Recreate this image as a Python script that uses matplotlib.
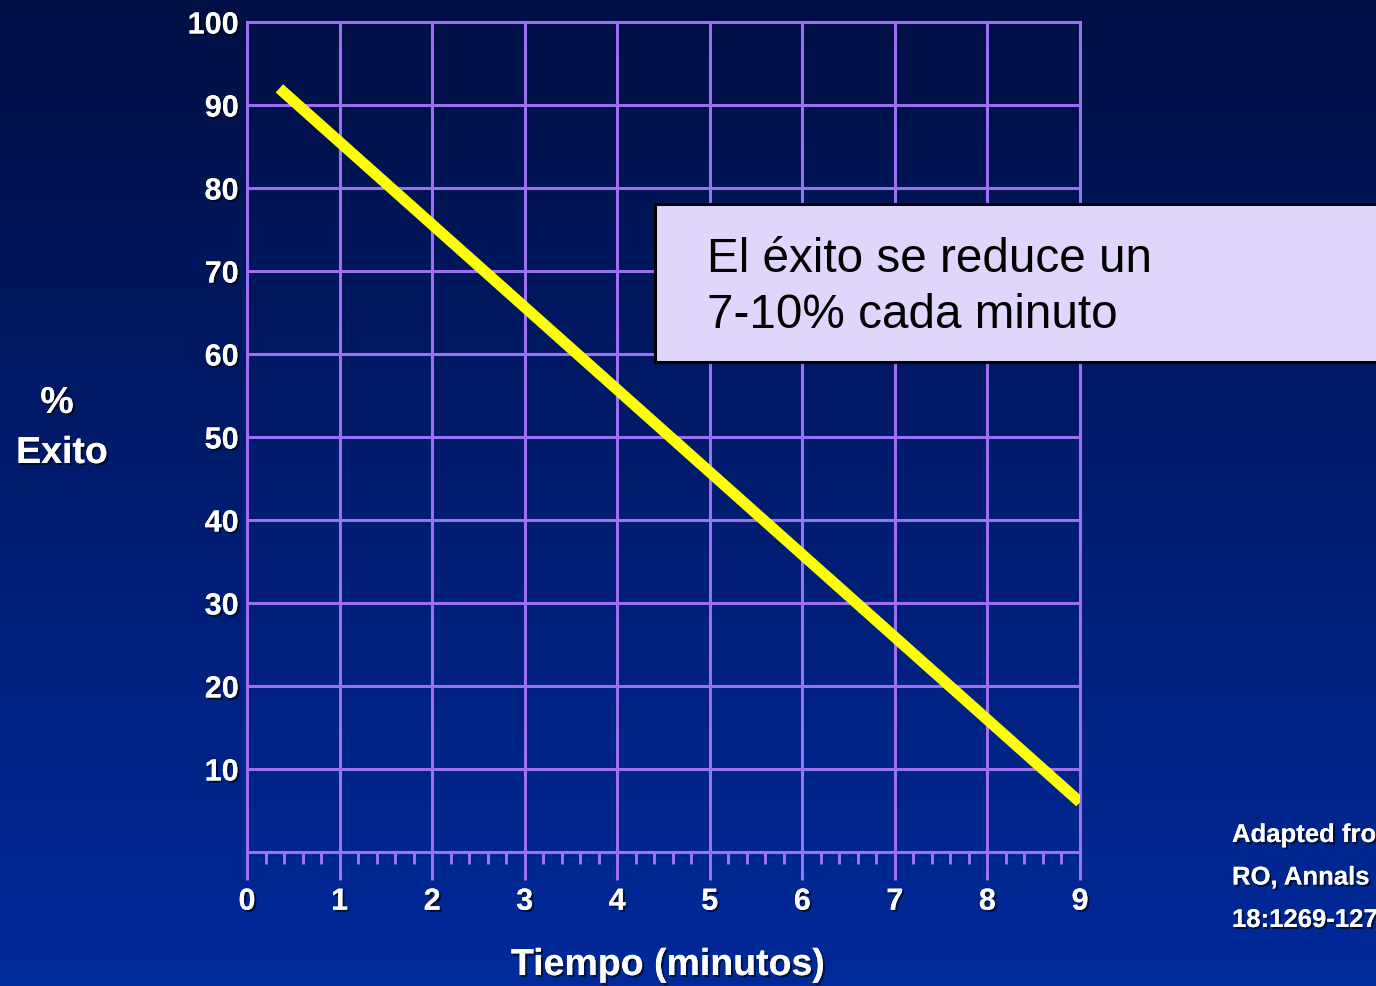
import numpy as np
import matplotlib
matplotlib.use("Agg")
from matplotlib import pyplot as plt
from matplotlib import patheffects as pe
from matplotlib.patches import Rectangle

# data
minutos = [0.35, 9.0]
exito = [92, 6]
x_ticks = list(range(0, 10))
y_ticks = list(range(10, 101, 10))
x_minor = [m + f for m in range(9) for f in (0.2, 0.4, 0.6, 0.8)]

grid_col = "#9c70f2"
plt.rcParams["font.family"] = ["Liberation Sans", "DejaVu Sans"]
shadow = [pe.withSimplePatchShadow(offset=(1.5, -1.5), shadow_rgbFace="black", alpha=0.6), pe.Normal()]

fig = plt.figure(figsize=(13.76, 9.86), dpi=100)

# gradient background
bg = fig.add_axes([0, 0, 1, 1], zorder=-10)
grad = np.linspace(0, 1, 256).reshape(-1, 1)
top = np.array([0, 15, 68]) / 255
bot = np.array([0, 42, 155]) / 255
img = top + (bot - top) * grad[..., None]
bg.imshow(img, aspect="auto", extent=[0, 1, 0, 1])
bg.axis("off")

ax = fig.add_axes([247 / 1376, 1 - 852 / 986, (1080 - 247) / 1376, (852 - 22) / 986])
ax.set_facecolor("none")
ax.set_xlim(0, 9)
ax.set_ylim(0, 100)

for y in y_ticks[:-1]:
    ax.axhline(y, color=grid_col, lw=2.2, zorder=1)
for x in x_ticks[1:-1]:
    ax.axvline(x, color=grid_col, lw=2.2, zorder=1)
for s in ax.spines.values():
    s.set_color(grid_col)
    s.set_linewidth(2.2)

ax.plot(minutos, exito, color="#ffff00", lw=8, solid_capstyle="butt", zorder=3)

ax.set_xticks(x_ticks)
ax.set_xticks(x_minor, minor=True)
ax.set_yticks(y_ticks)
ax.tick_params(axis="x", which="major", length=20, width=2.2, color=grid_col, pad=5,
               labelsize=22, labelcolor="white")
ax.tick_params(axis="x", which="minor", length=8.5, width=2.2, color=grid_col)
ax.tick_params(axis="y", length=0, pad=6, labelsize=22, labelcolor="white")
for lab in ax.get_xticklabels() + ax.get_yticklabels():
    lab.set_fontweight("bold")
    lab.set_path_effects(shadow)

fig.text(668 / 1376, 1 - 965 / 986, "Tiempo (minutos)", color="white", fontsize=27,
         fontweight="bold", ha="center", va="center", path_effects=shadow)
fig.text(57 / 1376, 1 - 403 / 986, "%", color="white", fontsize=27,
         fontweight="bold", ha="center", va="center", path_effects=shadow)
fig.text(62 / 1376, 1 - 453 / 986, "Exito", color="white", fontsize=27,
         fontweight="bold", ha="center", va="center", path_effects=shadow)

# annotation box
fig.patches.append(Rectangle((655 / 1376, 1 - 362 / 986), 0.6, 158 / 986, transform=fig.transFigure,
                             facecolor="#e0d6fc", edgecolor="black", lw=2.2, zorder=5))
fig.text(707 / 1376, 1 - 259 / 986, "El éxito se reduce un", fontsize=34.3, color="black",
         ha="left", va="center", zorder=6)
fig.text(707 / 1376, 1 - 315 / 986, "7-10% cada minuto", fontsize=34.3, color="black",
         ha="left", va="center", zorder=6)

# source note, cut by the right edge as in the slide
ref = ["Adapted from Cummins", "RO, Annals Emerg Med", "18:1269-1275"]
for i, line in enumerate(ref):
    fig.text(1232 / 1376, 1 - (835 + 42.5 * i) / 986, line, fontsize=18.5, color="white",
             fontweight="bold", ha="left", va="center", path_effects=shadow)

fig.savefig("out.png", dpi=100)
